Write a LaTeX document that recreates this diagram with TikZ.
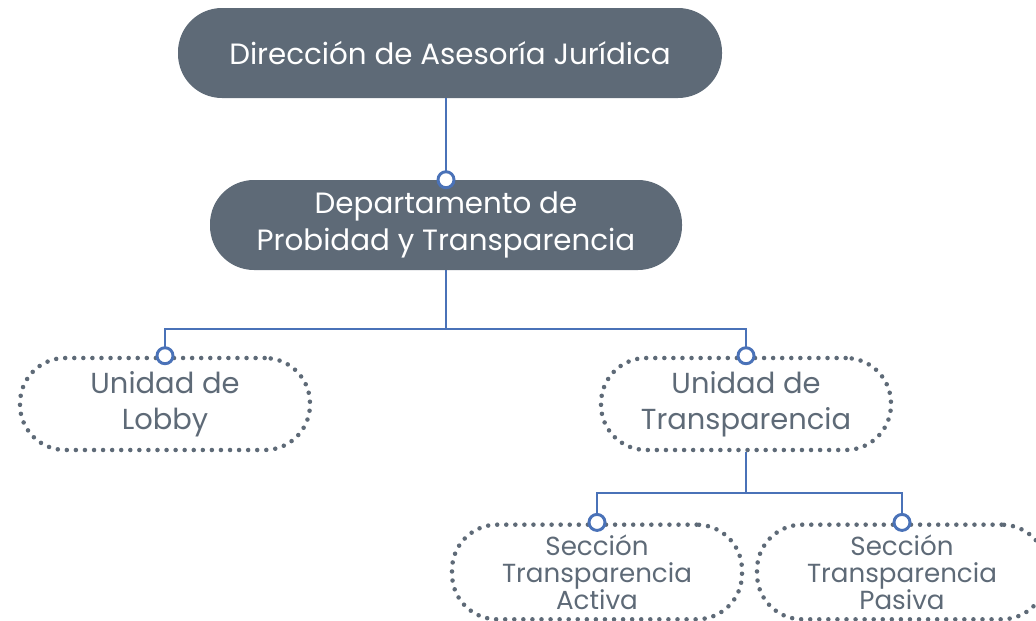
\documentclass[tikz,border=0pt]{standalone}
\usepackage{fontspec}
\setmainfont{Poppins}
\definecolor{pizarra}{HTML}{5E6A77}
\definecolor{azul}{HTML}{4A72B8}
\tikzset{
  caja/.style={fill=pizarra, text=white, rounded corners=33pt, align=center,
    minimum height=67.5pt, inner sep=0pt, font=\fontsize{22}{27.5}\selectfont},
  unidad/.style={draw=pizarra, dotted, line width=3.4pt, line cap=round,
    dash pattern=on 0pt off 6.8pt, rounded corners=34pt, text=pizarra,
    align=center, minimum width=217.5pt, minimum height=69pt, inner sep=0pt,
    font=\fontsize{21.7}{27}\selectfont},
  seccion/.style={unidad, minimum height=71pt, font=\fontsize{19.6}{20.3}\selectfont},
  enlace/.style={draw=azul, line width=2.2pt},
  punto/.style={circle, draw=azul, fill=white, line width=2.2pt,
    minimum size=12pt, inner sep=0pt}
}
\begin{document}
\begin{tikzpicture}[x=0.75pt, y=-0.75pt]
    \useasboundingbox (0,0) rectangle (1036,621);
    % Nodos
    \node[caja, minimum width=408pt] (dir) at (450,53) {Dirección de Asesoría Jurídica};
    \node[caja, minimum width=354pt] (dep) at (446,225) {Departamento de\\Probidad y Transparencia};
    \node[unidad] (lobby) at (165,404) {Unidad de\\Lobby};
    \node[unidad] (trans) at (746,404) {Unidad de\\Transparencia};
    \node[seccion] (activa) at (597,572) {Sección\\Transparencia\\Activa};
    \node[seccion] (pasiva) at (902,572) {Sección\\Transparencia\\Pasiva};
    
    % Conectores
    \coordinate (b1) at (446,329);
    \coordinate (b2) at (746,493);
    \draw[enlace] (dir.south -| dep.north) -- (dep.north);
    \draw[enlace] (dep.south) -- (b1) -| (lobby.north);
    \draw[enlace] (b1) -| (trans.north);
    \draw[enlace] (trans.south) -- (b2) -| (activa.north);
    \draw[enlace] (b2) -| (pasiva.north);
    \foreach \n in {dep, lobby, trans, activa, pasiva}
        \node[punto] at (\n.north) {};
\end{tikzpicture}
\end{document}
